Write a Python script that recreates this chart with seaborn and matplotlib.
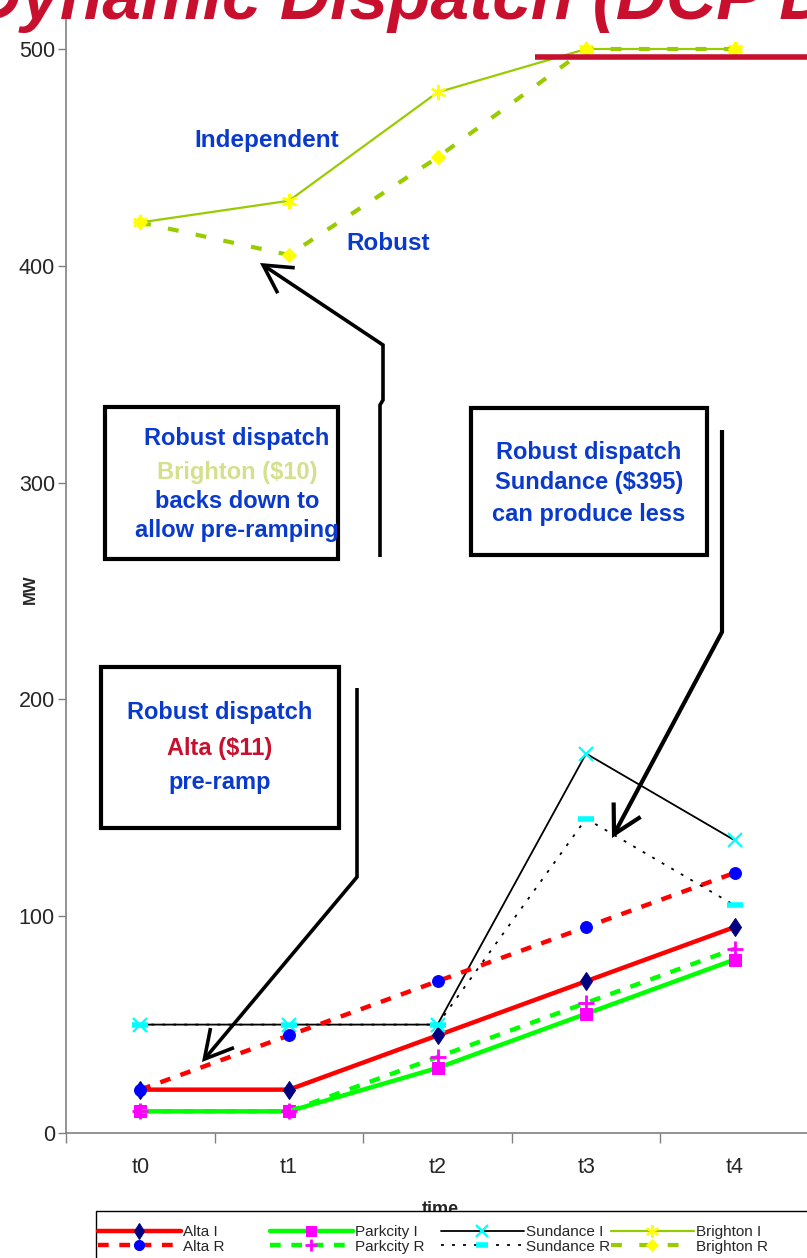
import matplotlib
matplotlib.use("Agg")
import matplotlib.pyplot as plt
import seaborn as sns
import numpy as np
from matplotlib.patches import Rectangle, FancyArrowPatch
from matplotlib.path import Path
from matplotlib.lines import Line2D

sns.set_theme(style="white")
plt.rcParams["font.family"] = ["Liberation Sans", "DejaVu Sans"]

# ---- data -------------------------------------------------------------
periods = ["t0", "t1", "t2", "t3", "t4"]
alta_i = [20, 20, 45, 70, 95]
alta_r = [20, 45, 70, 95, 120]
parkcity_i = [10, 10, 30, 55, 80]
parkcity_r = [10, 10, 35, 60, 85]
sundance_i = [50, 50, 50, 175, 135]
sundance_r = [50, 50, 50, 145, 105]
brighton_i = [420, 430, 480, 500, 500]
brighton_r = [420, 405, 450, 500, 500]
y_ticks = [0, 100, 200, 300, 400, 500]

W, H = 807, 1258
fig = plt.figure(figsize=(W / 100, H / 100), dpi=100)
fig.patch.set_facecolor("white")

def fx(px):
    return px / W

def fy(py):
    return 1 - py / H

# axes: y=0 at 1133 px, 100 MW = 216.8 px, categories every 148.6 px
y_top = 530
ax = fig.add_axes([fx(66), fy(1133), 5 * 148.6 / W, y_top * 2.168 / H])
ax.set_facecolor("white")

x = np.arange(len(periods))

red = "#ff0000"
lime = "#00ff00"
olive = "#99cc00"

series = [
    ("Alta I", alta_i, dict(color=red, lw=3.2, ls="-", marker="d", ms=9.5,
                            mfc="#000080", mec="#000080")),
    ("Parkcity I", parkcity_i, dict(color=lime, lw=3.2, ls="-", marker="s", ms=8,
                                    mfc="#ff00ff", mec="#ff00ff")),
    ("Sundance I", sundance_i, dict(color="black", lw=1.3, ls="-", marker="x", ms=10,
                                    mew=1.6, mfc="#00ffff", mec="#00ffff")),
    ("Brighton I", brighton_i, dict(color=olive, lw=1.6, ls="-", marker=(6, 2, 0), ms=11,
                                    mew=1.6, mfc="#ffff00", mec="#ffff00")),
    ("Alta R", alta_r, dict(color=red, lw=3.2, ls=(0, (2.4, 2.4)), marker="o", ms=8.5,
                            mfc="#0000ff", mec="#0000ff")),
    ("Parkcity R", parkcity_r, dict(color=lime, lw=3.2, ls=(0, (2.4, 2.4)), marker="+", ms=11,
                                    mew=2, mfc="#ff00ff", mec="#ff00ff")),
    ("Sundance R", sundance_r, dict(color="black", lw=1.3, ls=(0, (1.6, 4.5)), marker="_", ms=11,
                                    mew=4, mfc="#00ffff", mec="#00ffff")),
    ("Brighton R", brighton_r, dict(color=olive, lw=3.0, ls=(0, (2.6, 4.2)), marker="D", ms=7.5,
                                    mfc="#ffff00", mec="#ffff00")),
]

handles = {}
for name, vals, kw in series:
    sns.lineplot(x=x, y=vals, ax=ax, legend=False, label=name, **kw)
    handles[name] = ax.get_lines()[-1]

ax.set_xlim(-0.5, 4.5)
ax.set_ylim(0, y_top)

# ticks: category boundaries as marks, labels at centres
ax.set_xticks(np.arange(-0.5, 5.0, 1.0))
ax.set_xticklabels([])
ax.set_xticks(x, minor=True)
ax.set_xticklabels(periods, minor=True, fontsize=15.5)
ax.tick_params(axis="x", which="major", direction="out", length=7, width=1,
               color="#808080", bottom=True)
ax.tick_params(axis="x", which="minor", length=0, pad=17)
ax.set_yticks(y_ticks)
ax.set_yticklabels([str(v) for v in y_ticks], fontsize=15.5)
ax.tick_params(axis="y", direction="out", length=6, width=1, color="#808080",
               left=True, pad=2)
for s in ["top", "right"]:
    ax.spines[s].set_visible(False)
for s in ["left", "bottom"]:
    ax.spines[s].set_color("#808080")
    ax.spines[s].set_linewidth(1.2)
ax.set_xlabel("")
ax.set_ylabel("")
ax.grid(False)

# axis titles
fig.text(fx(30), fy(589), "MW", rotation=90, fontsize=12, fontweight="bold",
         ha="center", va="center")
fig.text(fx(440), fy(1214), "time", fontsize=13, fontweight="bold",
         ha="center", va="baseline", zorder=2)

# legend: framed strip with one column per plant (I above R)
fig.add_artist(Rectangle((fx(96), fy(1290)), fx(820) - fx(96), fy(1211) - fy(1290),
                         transform=fig.transFigure, facecolor="white",
                         edgecolor="black", lw=1.0, zorder=4))
columns = [("Alta I", "Alta R", 98), ("Parkcity I", "Parkcity R", 270),
           ("Sundance I", "Sundance R", 441), ("Brighton I", "Brighton R", 611)]
for top_name, bottom_name, x0 in columns:
    lg = fig.legend([handles[top_name], handles[bottom_name]], [top_name, bottom_name],
                    loc="upper left", bbox_to_anchor=(fx(x0), fy(1225)),
                    bbox_transform=fig.transFigure, fontsize=11,
                    handlelength=5.4, handletextpad=0.15, labelspacing=0.05,
                    borderpad=0, borderaxespad=0, numpoints=1, frameon=False,
                    markerscale=0.85)
    lg.set_zorder(5)

# slide title and rule
title_red = "#c8102e"
fig.text(fx(-29), fy(19), "Dynamic Dispatch (DCP Dispatch)", fontsize=50,
         fontweight="bold", fontstyle="italic", color=title_red,
         ha="left", va="baseline")
fig.add_artist(Line2D([fx(535), fx(807)], [fy(57), fy(57)], color=title_red,
                      lw=4, transform=fig.transFigure, solid_capstyle="butt"))

# callout labels on the Brighton curves
blue = "#0a3acc"
fig.text(fx(267), fy(140), "Independent", fontsize=17.5, fontweight="bold",
         color=blue, ha="center", va="center")
fig.text(fx(388), fy(244), "Robust", fontsize=17.5, fontweight="bold",
         color=blue, ha="center", va="center")

# callout boxes
def box(x0, y0, x1, y1):
    fig.add_artist(Rectangle((fx(x0), fy(y1)), fx(x1) - fx(x0), fy(y0) - fy(y1),
                             transform=fig.transFigure, facecolor="white",
                             edgecolor="black", lw=3, zorder=4))

def line_text(xc, yc, s, color):
    fig.text(fx(xc), fy(yc), s, fontsize=17, fontweight="bold", color=color,
             ha="center", va="center", zorder=5)

box(105, 407, 338, 559)
line_text(237, 438, "Robust dispatch", blue)
line_text(237, 472, "Brighton ($10)", "#d4e08c")
line_text(237, 501, "backs down to", blue)
line_text(237, 530, "allow pre-ramping", blue)

box(471, 408, 707, 555)
line_text(589, 452, "Robust dispatch", blue)
line_text(589, 483, "Sundance ($395)", blue)
line_text(589, 514, "can produce less", blue)

box(101, 667, 339, 828)
line_text(220, 713, "Robust dispatch", blue)
line_text(220, 748, "Alta ($11)", title_red)
line_text(220, 782, "pre-ramp", blue)

# elbow arrows
def elbow_arrow(pts, lw):
    verts = [(fx(px), fy(py)) for px, py in pts]
    codes = [Path.MOVETO] + [Path.LINETO] * (len(verts) - 1)
    arr = FancyArrowPatch(path=Path(verts, codes), transform=fig.transFigure,
                          arrowstyle="->,head_length=1.0,head_width=0.55",
                          mutation_scale=20, lw=lw, color="black", zorder=6,
                          joinstyle="miter", capstyle="butt")
    fig.add_artist(arr)

elbow_arrow([(380, 557), (380, 405), (383, 400), (383, 345), (260, 263)], 2.6)
elbow_arrow([(357, 688), (357, 877), (202, 1062)], 2.6)
elbow_arrow([(722, 430), (722, 632), (612, 838)], 3.0)

fig.savefig("out.png", dpi=100, facecolor="white")
